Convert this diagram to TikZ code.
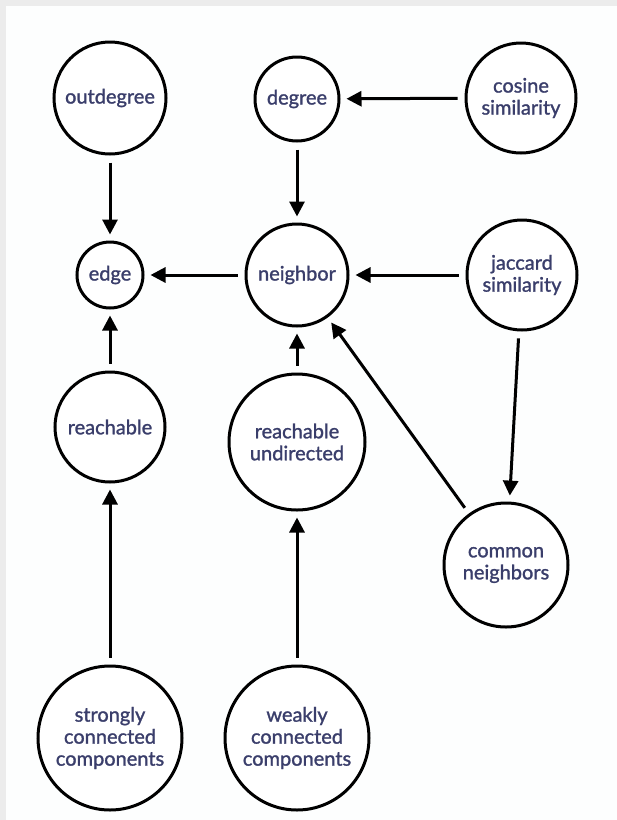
\documentclass[tikz,border=0pt]{standalone}
\usepackage{fontspec}
\setmainfont{Lato}
\newfontfamily\labelfont{Lato}[FakeBold=1.3]
\usetikzlibrary{arrows.meta}
\definecolor{labelink}{RGB}{58,62,107}
\definecolor{framegray}{RGB}{236,236,236}
\definecolor{paper}{RGB}{253,254,254}
\begin{document}
\begin{tikzpicture}[x=1pt,y=-1pt,
  concept/.style={circle,draw=black,line width=3pt,fill=white,inner sep=0pt,
    text=labelink,font=\labelfont\fontsize{20}{22}\selectfont,align=center},
  link/.style={line width=3pt,-{Triangle[length=15pt,width=15pt]},
    shorten >=6pt,shorten <=7pt}]
  % page: grey frame on the top and left edges
  \useasboundingbox (0,0) rectangle (617,820);
  \fill[framegray] (0,0) rectangle (617,820);
  \fill[paper] (6,6) rectangle (617,820);

  % concepts
  \node[concept,minimum size=112pt] (outdeg) at (110,98) {outdegree};
  \node[concept,minimum size=84pt]  (deg)    at (297,99) {degree};
  \node[concept,minimum size=110pt] (cos)    at (521,98) {cosine\\similarity};
  \node[concept,minimum size=66pt]  (edge)   at (110,275) {edge};
  \node[concept,minimum size=102pt] (nbr)    at (297,275) {neighbor};
  \node[concept,minimum size=110pt] (jac)    at (522,275) {jaccard\\similarity};
  \node[concept,minimum size=110pt] (reach)  at (110,427) {reachable};
  \node[concept,minimum size=136pt] (reachu) at (297,442) {reachable\\undirected};
  \node[concept,minimum size=124pt] (common) at (506,565) {common\\neighbors};
  \node[concept,minimum size=144pt] (scc)    at (110,738) {strongly\\connected\\components};
  \node[concept,minimum size=144pt] (wcc)    at (297,738) {weakly\\connected\\components};

  % dependencies
  \draw[link] (outdeg) -- (edge);
  \draw[link] (cos) -- (deg);
  \draw[link] (deg) -- (nbr);
  \draw[link] (nbr) -- (edge);
  \draw[link] (jac) -- (nbr);
  \draw[link] (jac) -- (common);
  \draw[link] (common) -- (nbr);
  \draw[link] (reach) -- (edge);
  \draw[link] (reachu) -- (nbr);
  \draw[link] (scc) -- (reach);
  \draw[link] (wcc) -- (reachu);
\end{tikzpicture}
\end{document}
